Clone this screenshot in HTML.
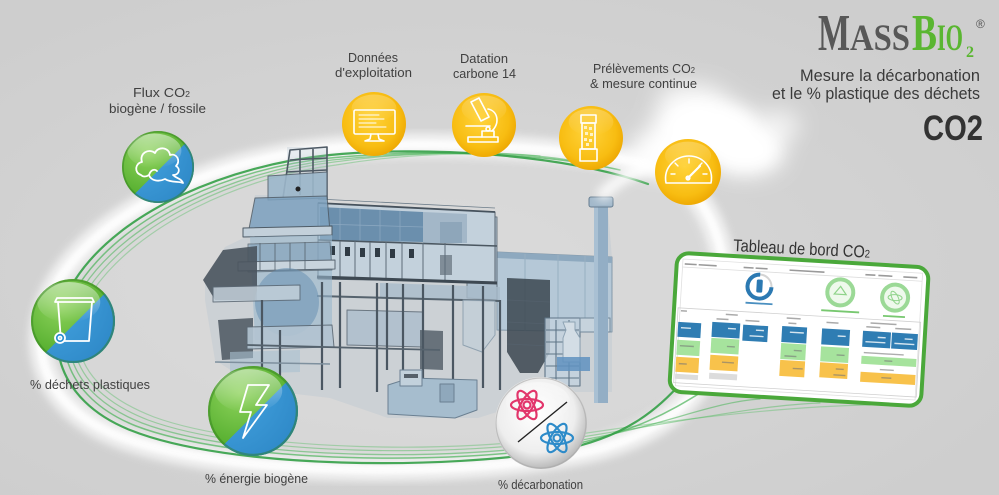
<!DOCTYPE html>
<html><head><meta charset="utf-8">
<style>
html,body{margin:0;padding:0;width:999px;height:495px;overflow:hidden;background:#d1d1d1}
svg{display:block;overflow:hidden}
text{font-family:"Liberation Sans",sans-serif}
</style></head><body>
<svg width="999" height="495" viewBox="0 0 999 495" xmlns="http://www.w3.org/2000/svg">
<defs>
 <filter id="b2" x="-20%" y="-20%" width="140%" height="140%"><feGaussianBlur stdDeviation="1.5"/></filter>
 <filter id="b4" x="-5%" y="-5%" width="110%" height="110%"><feGaussianBlur stdDeviation="4"/></filter>
 <filter id="b5" x="-20%" y="-20%" width="140%" height="140%"><feGaussianBlur stdDeviation="5"/></filter>
 <filter id="b8" x="-60%" y="-60%" width="220%" height="220%"><feGaussianBlur stdDeviation="8"/></filter>
 <filter id="b12" x="-40%" y="-40%" width="180%" height="180%"><feGaussianBlur stdDeviation="11"/></filter>
 <radialGradient id="bg" cx="45%" cy="55%" r="65%"><stop offset="0" stop-color="#d9d9d9"/><stop offset="1" stop-color="#cecece"/></radialGradient>
 <radialGradient id="yel" cx="45%" cy="42%" r="62%"><stop offset="0" stop-color="#ffd33a"/><stop offset="0.7" stop-color="#f8bd12"/><stop offset="1" stop-color="#eca500"/></radialGradient>
 <radialGradient id="grn" cx="35%" cy="30%" r="75%"><stop offset="0" stop-color="#8ed35c"/><stop offset="1" stop-color="#48a624"/></radialGradient>
 <radialGradient id="blu" cx="35%" cy="30%" r="80%"><stop offset="0" stop-color="#47a7e3"/><stop offset="1" stop-color="#1c72b3"/></radialGradient>
 <radialGradient id="sil" cx="45%" cy="40%" r="60%"><stop offset="0" stop-color="#ffffff"/><stop offset="0.7" stop-color="#eeeeee"/><stop offset="1" stop-color="#b9b9b9"/></radialGradient>
 <linearGradient id="gloss" x1="0" y1="0" x2="0" y2="1"><stop offset="0" stop-color="#fff" stop-opacity=".5"/><stop offset="1" stop-color="#fff" stop-opacity="0"/></linearGradient>
 <clipPath id="uc"><circle cx="0" cy="0" r="1"/></clipPath>
 <g id="ball">
  <circle r="1" fill="url(#grn)"/>
  <g clip-path="url(#uc)"><polygon points="-2,2.1 2,-1.9 2,2.5 -2,2.5" fill="url(#blu)"/></g>
  <ellipse cx="-0.1" cy="-0.45" rx="0.75" ry="0.48" fill="url(#gloss)"/>
  <circle r="0.975" fill="none" stroke="#2f7d1c" stroke-width="0.05" opacity=".45"/>
 </g>
 <g id="yball">
  <circle r="1" fill="url(#yel)"/>
  <ellipse cx="0" cy="-0.5" rx="0.7" ry="0.42" fill="url(#gloss)" opacity=".5"/>
 </g>
 <g id="atom" fill="none" stroke-width="2.2">
  <ellipse rx="16" ry="6"/>
  <ellipse rx="16" ry="6" transform="rotate(60)"/>
  <ellipse rx="16" ry="6" transform="rotate(-60)"/>
  <circle r="3.5"/>
 </g>
</defs>

<rect width="999" height="495" fill="url(#bg)"/>

<!-- ring inner fill and glow -->
<path d="M 330,155 C 230,165 120,210 75,280 C 40,335 55,400 130,430 C 230,470 450,470 560,450 C 640,438 700,400 712,330 C 725,255 700,190 645,170 C 560,152 420,146 330,155 Z" fill="#dadada" opacity=".7" filter="url(#b5)"/>
<g transform="translate(470 300) scale(1.04) translate(-470 -300)">
 <path d="M 330,155 C 230,165 120,210 75,280 C 40,335 55,400 130,430 C 230,470 450,470 560,450 C 640,438 700,400 712,330 C 725,255 700,190 645,170 C 560,152 420,146 330,155 Z" fill="none" stroke="#ffffff" stroke-width="22" opacity=".72" filter="url(#b4)"/>
 <path d="M 330,155 C 230,165 120,210 75,280 C 40,335 55,400 130,430 C 230,470 450,470 560,450 C 640,438 700,400 712,330 C 725,255 700,190 645,170 C 560,152 420,146 330,155 Z" fill="none" stroke="#ffffff" stroke-width="8" opacity=".75" filter="url(#b2)"/>
</g>

<!-- green strands -->
<g fill="none" stroke-linecap="round">
 <path d="M 500,155 C 450,152 390,156 336,165 C 244,176 138,224 92,292 C 62,340 79,388 154,417 C 250,452 465,455 580,434 C 700,416 800,406 870,405" stroke="#6cc277" stroke-width="1.2" opacity=".5"/>
 <path d="M 540,156 C 480,150 400,153 334,162 C 240,173 134,221 88,289 C 57,338 73,391 148,420 C 245,456 460,458 575,438 C 680,422 760,405 820,403" stroke="#62be6e" stroke-width="1.2" opacity=".55"/>
 <path d="M 580,162 C 520,150 420,151 332,160 C 236,171 130,218 84,286 C 52,337 68,394 142,423 C 240,460 455,462 570,442 C 660,428 710,402 760,399" stroke="#55b862" stroke-width="1.3" opacity=".6"/>
 <path d="M 620,170 C 540,152 420,149 330,158 C 232,168 126,214 80,283 C 47,336 63,397 136,426 C 236,464 452,465 565,446 C 640,432 680,405 705,390" stroke="#4cb35a" stroke-width="1.5" opacity=".7"/>
 <path d="M 648,184 C 560,153 420,146 330,155 C 230,165 120,210 75,280 C 40,335 55,400 130,430 C 230,470 450,470 560,450 C 625,438 662,408 690,372" stroke="#34a047" stroke-width="2.2" opacity=".9"/>
</g>

<!-- plant -->
<g stroke-linejoin="round">
 <polygon points="205,280 225,247 250,235 255,195 287,195 287,147 327,147 327,203 495,212 497,252 594,256 594,200 607,200 612,258 612,392 560,392 478,418 388,418 330,398 262,390 215,360 205,300" fill="#a9bccb" opacity=".25"/>
 <polygon points="497,252 612,257 612,332 497,330" fill="#b3c8d8" opacity=".9" stroke="#7d93a5"/>
 <polygon points="497,252 612,257 612,263 497,258" fill="#8ea9bf"/>
 <g stroke="#98afc1" stroke-width="1"><line x1="525" y1="254" x2="525" y2="331"/><line x1="558" y1="255" x2="558" y2="331"/><line x1="585" y1="256" x2="585" y2="332"/></g>
 <polygon points="507,278 550,280 550,352 538,373 520,373 507,352" fill="#3b4650" opacity=".85"/>
 <g stroke="#56636f" stroke-width=".8" opacity=".7"><line x1="507" y1="300" x2="550" y2="302"/><line x1="507" y1="322" x2="550" y2="324"/><line x1="507" y1="344" x2="550" y2="346"/></g>
 <rect x="545" y="318" width="35" height="67" fill="#c3d2de" opacity=".8"/>
 <g stroke="#5f7587" stroke-width="1.1" fill="none">
  <path d="M545,318 L580,318 L580,386 L545,386 Z"/>
  <path d="M546,330 L579,330 M546,342 L579,342 M546,354 L579,354 M546,366 L579,366 M546,378 L579,378"/>
  <path d="M556,320 L556,392 M569,320 L569,392"/>
 </g>
 <path d="M563,322 L575,322 L575,330 L580,338 L580,362 L563,362 L563,338 L566,330 Z" fill="#d3dde5" stroke="#8ea3b4"/>
 <rect x="557" y="357" width="33" height="14" fill="#5f92bf" opacity=".85"/>
 <rect x="580" y="318" width="30" height="14" fill="#c6d3dd" stroke="#72889a"/>
 <rect x="594" y="205" width="14" height="198" fill="#93aec5"/>
 <rect x="594" y="205" width="4" height="198" fill="#a9c0d3"/>
 <rect x="589" y="197" width="24" height="10" rx="2" fill="#a2b8ca" stroke="#667d90"/>
 <polygon points="467,215 497,217 497,300 467,298" fill="#a7bbcc" opacity=".85" stroke="#5d6b77"/>
 <polygon points="318,203 495,212 495,282 318,279" fill="#c3d1dc" stroke="#57636e" stroke-width="1"/>
 <polygon points="320,207 423,212 423,242 320,240" fill="#6b8fad"/>
 <g stroke="#8aa7c0" stroke-width=".8"><line x1="340" y1="208" x2="340" y2="240"/><line x1="360" y1="209" x2="360" y2="241"/><line x1="380" y1="210" x2="380" y2="241"/><line x1="400" y1="211" x2="400" y2="242"/><line x1="320" y1="224" x2="423" y2="227"/></g>
 <polygon points="423,212 467,214 467,243 423,243" fill="#a3b7c8"/>
 <polygon points="440,222 462,222 462,243 440,243" fill="#8ea6ba"/>
 <path d="M318,203 L495,212" stroke="#46525d" stroke-width="1.8"/>
 <path d="M318,199 L495,208" stroke="#6d7d8a" stroke-width=".8"/>
 <path d="M318,240 L497,246" stroke="#4b5761" stroke-width="1.6"/>
 <g fill="#2f3a44">
  <rect x="330" y="246" width="5" height="9"/><rect x="345" y="247" width="5" height="9"/>
  <rect x="360" y="248" width="5" height="9"/><rect x="375" y="248" width="5" height="9"/>
  <rect x="390" y="249" width="5" height="9"/><rect x="409" y="249" width="5" height="9"/>
  <rect x="440" y="255" width="12" height="20" opacity=".45"/>
 </g>
 <g stroke="#5d6b77" stroke-width="1">
  <line x1="340" y1="241" x2="340" y2="279"/><line x1="355" y1="241" x2="355" y2="280"/>
  <line x1="370" y1="242" x2="370" y2="280"/><line x1="386" y1="242" x2="386" y2="280"/>
  <line x1="402" y1="242" x2="402" y2="281"/><line x1="423" y1="243" x2="423" y2="281"/>
  <line x1="445" y1="243" x2="445" y2="282"/>
 </g>
 <path d="M317,277 L497,283" stroke="#3d4852" stroke-width="3"/>
 <polygon points="380,283 500,287 500,300 380,297" fill="#a9bccb" opacity=".8"/>
 <path d="M317,296 L500,301" stroke="#56636e" stroke-width="2"/>
 <g fill="none" stroke="#4d5964" stroke-width="1.6">
  <path d="M283,198 L290,150 L327,147 L327,200"/>
  <path d="M300,150 L300,195 M313,149 L313,196"/>
  <path d="M290,160 L327,158 M286,172 L327,170"/>
 </g>
 <polygon points="268,176 327,172 327,198 268,200" fill="#9cb7cb" opacity=".9" stroke="#56636f"/>
 <circle cx="298" cy="189" r="2.5" fill="#222"/>
 <polygon points="255,198 327,196 330,232 248,234" fill="#7ea2bf" opacity=".85" stroke="#4f5c67"/>
 <polygon points="243,228 332,226 332,235 243,237" fill="#c3d0da" stroke="#4f5c67"/>
 <polygon points="250,237 332,235 332,340 255,340" fill="#9ab7cd" opacity=".6"/>
 <polygon points="248,244 330,242 332,270 248,272" fill="#87a5bd" opacity=".7" stroke="#55626d"/>
 <polygon points="238,262 335,260 335,269 238,271" fill="#c8d4dd" stroke="#5b6874"/>
 <g stroke="#56636e" stroke-width=".8"><line x1="260" y1="243" x2="260" y2="270"/><line x1="275" y1="243" x2="275" y2="270"/><line x1="290" y1="243" x2="290" y2="270"/><line x1="305" y1="242" x2="305" y2="270"/></g>
 <polygon points="203,280 223,250 257,246 257,300 215,300" fill="#4a545e" opacity=".9"/>
 <ellipse cx="287" cy="302" rx="32" ry="34" fill="#6a91b2" opacity=".55"/>
 <polygon points="213,287 300,285 300,300 213,302" fill="#c2cfd9" opacity=".85" stroke="#5b6874"/>
 <polygon points="218,320 253,318 253,358 222,360" fill="#535d67" opacity=".9"/>
 <polygon points="247,327 332,325 334,347 247,349" fill="#b3c4d2" opacity=".9" stroke="#5b6874"/>
 <polygon points="230,352 300,350 300,372 230,374" fill="#a8bfd1" opacity=".6"/>
 <polygon points="347,310 423,312 423,347 347,345" fill="#aebfcd" opacity=".85" stroke="#5b6874"/>
 <polygon points="420,330 443,331 443,370 420,369" fill="#56616b" opacity=".85"/>
 <polygon points="463,300 495,301 495,335 482,352 463,345" fill="#c4cfd8" opacity=".9" stroke="#8a9dac"/>
 <g stroke="#4b5762" stroke-width="2.2">
  <line x1="262" y1="300" x2="262" y2="385"/><line x1="280" y1="330" x2="280" y2="380"/>
  <line x1="322" y1="282" x2="322" y2="390"/><line x1="340" y1="282" x2="340" y2="388"/>
  <line x1="377" y1="283" x2="377" y2="392"/><line x1="387" y1="283" x2="387" y2="370"/>
  <line x1="403" y1="284" x2="403" y2="375"/><line x1="423" y1="284" x2="423" y2="380"/>
  <line x1="453" y1="285" x2="453" y2="385"/><line x1="483" y1="286" x2="483" y2="388"/>
  <line x1="500" y1="300" x2="500" y2="390"/>
 </g>
 <path d="M247,345 L440,350" stroke="#55626d" stroke-width="1.8"/>
 <path d="M215,362 L330,364" stroke="#7e909e" stroke-width="1.5"/>
 <polygon points="388,385 410,378 477,380 477,410 455,418 388,414" fill="#a6bdce" stroke="#6b8092"/>
 <rect x="400" y="370" width="22" height="16" fill="#c2d1dc" stroke="#6b8092"/>
 <rect x="404" y="374" width="14" height="4" fill="#55606a"/>
 <rect x="440" y="384" width="14" height="18" fill="#8fa8bc" stroke="#6b8092"/>
</g>

<!-- cloud -->
<g filter="url(#b12)">
 <ellipse cx="705" cy="128" rx="55" ry="30" fill="#fff"/>
 <ellipse cx="745" cy="152" rx="40" ry="24" fill="#fff"/>
 <ellipse cx="660" cy="152" rx="32" ry="20" fill="#fff"/>
 <ellipse cx="692" cy="100" rx="35" ry="16" fill="#fff" opacity=".8"/>
 <ellipse cx="778" cy="126" rx="22" ry="16" fill="#fff" opacity=".7"/>
</g>
<g filter="url(#b8)">
 <ellipse cx="712" cy="130" rx="42" ry="22" fill="#fff"/>
 <ellipse cx="745" cy="150" rx="28" ry="16" fill="#fff"/>
</g>
<path d="M600,198 C610,185 625,176 650,165" stroke="#fff" stroke-width="12" fill="none" opacity=".9" filter="url(#b5)"/>

<!-- green/blue balls -->
<use href="#ball" transform="translate(158 167) scale(36)"/>
<use href="#ball" transform="translate(73 321) scale(42)"/>
<use href="#ball" transform="translate(253 411) scale(45)"/>

<g fill="none" stroke="#fff" stroke-width="1.8" stroke-linejoin="round" stroke-linecap="round">
 <g transform="translate(159 165)">
  <path d="M-18,10 C-25,8 -24,-2 -17,-3 C-20,-12 -10,-17 -4,-12 C-1,-19 10,-18 11,-10 C18,-12 22,-4 17,1 C22,4 20,10 14,10 C18,14 22,13 24,18 C20,16 12,18 6,14 C0,17 -8,16 -10,10 C-13,12 -16,12 -18,10 Z"/>
  <path d="M-10,10 C-8,4 -4,4 -2,6"/>
 </g>
 <g transform="translate(73 321)">
  <path d="M-18,-19 L-16,-23 L19,-23 L21,-19 Z"/>
  <path d="M-15,-19 L-12,20 L16,20 L19,-19"/>
  <circle cx="-13" cy="17" r="5" fill="#2b8fd0"/>
  <circle cx="-13" cy="17" r="1.5"/>
 </g>
 <g transform="translate(253 411)">
  <path d="M-5,-26 L16,-26 L3,-6 L14,-6 L-10,27 L-2,1 L-13,1 Z"/>
 </g>
</g>

<!-- yellow balls -->
<use href="#yball" transform="translate(374 124) scale(32)"/>
<use href="#yball" transform="translate(484 125) scale(32)"/>
<use href="#yball" transform="translate(591 138) scale(32)"/>
<use href="#yball" transform="translate(688 172) scale(33)"/>

<g fill="none" stroke="#fff" stroke-width="1.6" stroke-linejoin="round" stroke-linecap="round">
 <g transform="translate(374 124)">
  <rect x="-20" y="-14" width="41" height="24" rx="1.5"/>
  <path d="M-3,10 L-4,15 L-9,17 L10,17 L5,15 L4,10"/>
  <path d="M-15,-9 L5,-9 M-15,-5 L10,-5 M-15,-1 L2,-1 M-15,3 L12,3" stroke-width="1"/>
 </g>
 <g transform="translate(484 125)">
  <rect x="-16" y="12" width="30" height="5"/>
  <path d="M-2,12 L-2,6 L10,6 L10,12"/>
  <path d="M8,6 C16,-2 14,-14 4,-16"/>
  <path d="M-13,-23 L-5,-27 L5,-8 L-3,-4 Z"/>
  <path d="M-18,1 L6,1"/>
  <circle cx="4" cy="4" r="2"/>
 </g>
 <g transform="translate(589 138)">
  <rect x="-8" y="-23" width="15" height="8"/>
  <rect x="-7" y="-15" width="13" height="26"/>
  <rect x="-9" y="11" width="17" height="12"/>
  <g fill="#fff2c4" stroke="none">
   <rect x="-5" y="-12" width="3" height="3"/><rect x="0" y="-11" width="3" height="3"/>
   <rect x="-4" y="-6" width="3" height="3"/><rect x="1" y="-5" width="3" height="3"/>
   <rect x="-5" y="0" width="3" height="3"/><rect x="0" y="1" width="3" height="3"/>
   <rect x="-3" y="5" width="3" height="3"/>
  </g>
 </g>
 <g transform="translate(688 172)">
  <path d="M-22,11 C-25,-5 -12,-16 1,-16 C14,-16 26,-5 23,11 Z"/>
  <path d="M-17,2 L-13,2 M-13,-9 L-10,-6 M1,-13 L1,-9 M14,-9 L11,-6 M19,2 L15,2" stroke-width="1.4"/>
  <path d="M0,6 L12,-6" stroke-width="2.2"/>
  <circle cx="0" cy="6" r="1.8"/>
 </g>
</g>

<!-- décarbonation ball -->
<circle cx="541" cy="423" r="46" fill="url(#sil)"/>
<circle cx="541" cy="423" r="45" fill="none" stroke="#a9a9a9" stroke-width="1.2" opacity=".6"/>
<ellipse cx="538" cy="402" rx="32" ry="20" fill="url(#gloss)" opacity=".8"/>
<use href="#atom" transform="translate(527 405)" stroke="#e2356b"/>
<use href="#atom" transform="translate(557 438)" stroke="#2d8bc9"/>
<line x1="567" y1="402" x2="518" y2="442" stroke="#222" stroke-width="1.4"/>

<!-- dashboard -->
<text x="733" y="251" font-size="17" fill="#333" textLength="137" lengthAdjust="spacingAndGlyphs" transform="rotate(2.8 733 251)">Tableau de bord CO<tspan font-size="11">2</tspan></text>
<g transform="rotate(3.4 799 330)">
 <rect x="673" y="260" width="252" height="139" rx="12" fill="#fff" stroke="#4aa83a" stroke-width="4"/>
 <rect x="679" y="266" width="240" height="127" fill="none" stroke="#e0e0e0" stroke-width="0.8"/>
 <g fill="#9a9a9a">
  <rect x="681" y="270" width="12" height="1.6"/><rect x="695" y="270" width="18" height="1.6"/>
  <rect x="740" y="270" width="10" height="1.6"/><rect x="752" y="270" width="12" height="1.6"/>
  <rect x="786" y="270" width="35" height="1.6"/>
  <rect x="862" y="270" width="10" height="1.6"/><rect x="875" y="270" width="14" height="1.6"/><rect x="900" y="270" width="14" height="1.6"/>
 </g>
 <line x1="679" y1="274" x2="919" y2="274" stroke="#ddd" stroke-width=".8"/>
 <circle cx="757" cy="289" r="12" fill="none" stroke="#d4d4d4" stroke-width="2"/>
 <path d="M757,277 A12,12 0 1 0 769,289" fill="none" stroke="#2b79b2" stroke-width="4"/>
 <rect x="754" y="282" width="6" height="13" rx="1.5" fill="#2b79b2"/>
 <rect x="744" y="305" width="27" height="1.8" fill="#4a8fc0"/>
 <circle cx="838" cy="290" r="13" fill="#eef9ec" stroke="#9bd996" stroke-width="4"/>
 <path d="M832,292 L838,284 L844,292 Z" fill="none" stroke="#8fd38a" stroke-width="1.2"/>
 <rect x="820" y="308" width="38" height="1.8" fill="#78c870"/>
 <circle cx="893" cy="292" r="13" fill="#eef9ec" stroke="#9bd996" stroke-width="4"/>
 <ellipse cx="893" cy="292" rx="7" ry="3" fill="none" stroke="#8fd38a" stroke-width="1"/>
 <ellipse cx="893" cy="292" rx="7" ry="3" fill="none" stroke="#8fd38a" stroke-width="1" transform="rotate(60 893 292)"/>
 <rect x="882" y="310" width="22" height="1.8" fill="#78c870"/>
 <rect x="677" y="315" width="243" height="75" fill="none" stroke="#d0d0d0" stroke-width=".8"/>
 <g fill="#aaa">
  <rect x="680" y="317" width="6" height="1.5"/><rect x="725" y="318" width="12" height="1.5"/>
  <rect x="716" y="323" width="12" height="1.5"/><rect x="745" y="323" width="14" height="1.5"/>
  <rect x="786" y="318" width="14" height="1.5"/><rect x="788" y="323" width="8" height="1.5"/>
  <rect x="826" y="320" width="12" height="1.5"/><rect x="870" y="318" width="26" height="1.5"/>
  <rect x="866" y="322" width="14" height="1.5"/><rect x="895" y="322" width="16" height="1.5"/>
 </g>
 <g fill="#2f7db3">
  <rect x="678" y="329" width="23" height="15"/>
  <rect x="712" y="327" width="28" height="15"/>
  <rect x="743" y="328" width="25" height="16"/>
  <rect x="782" y="327" width="25" height="16"/>
  <rect x="822" y="327" width="28" height="16"/>
  <rect x="863" y="327" width="28" height="16"/>
  <rect x="892" y="327" width="26" height="16"/>
 </g>
 <g fill="#a6e39d">
  <rect x="678" y="347" width="23" height="15"/>
  <rect x="712" y="343" width="28" height="15"/>
  <rect x="782" y="344" width="25" height="16"/>
  <rect x="822" y="345" width="28" height="15"/>
  <rect x="863" y="352" width="55" height="8"/>
 </g>
 <g fill="#f8c24b">
  <rect x="678" y="364" width="23" height="15"/>
  <rect x="712" y="360" width="28" height="15"/>
  <rect x="782" y="361" width="25" height="16"/>
  <rect x="822" y="361" width="28" height="15"/>
  <rect x="863" y="368" width="55" height="10"/>
 </g>
 <g fill="#dcdcdc">
  <rect x="678" y="381" width="23" height="5"/>
  <rect x="712" y="378" width="28" height="6"/>
 </g>
 <g fill="#fff" opacity=".8">
  <rect x="681" y="334" width="10" height="1.4"/><rect x="728" y="332" width="8" height="1.4"/>
  <rect x="756" y="332" width="8" height="1.4"/><rect x="750" y="338" width="14" height="1.4"/>
  <rect x="790" y="332" width="14" height="1.4"/><rect x="838" y="333" width="8" height="1.4"/>
  <rect x="878" y="332" width="8" height="1.4"/><rect x="866" y="337" width="20" height="1.4"/>
  <rect x="905" y="332" width="8" height="1.4"/><rect x="895" y="337" width="20" height="1.4"/>
 </g>
 <g fill="#777" opacity=".6">
  <rect x="681" y="352" width="14" height="1.4"/><rect x="728" y="350" width="8" height="1.4"/>
  <rect x="681" y="370" width="8" height="1.4"/><rect x="724" y="366" width="12" height="1.4"/>
  <rect x="795" y="350" width="8" height="1.4"/><rect x="786" y="356" width="12" height="1.4"/>
  <rect x="795" y="368" width="10" height="1.4"/><rect x="838" y="352" width="8" height="1.4"/>
  <rect x="838" y="366" width="8" height="1.4"/><rect x="836" y="372" width="12" height="1.4"/>
  <rect x="865" y="348" width="40" height="1.4"/><rect x="886" y="355" width="8" height="1.4"/>
  <rect x="882" y="364" width="14" height="1.4"/><rect x="884" y="372" width="10" height="1.4"/>
 </g>
</g>

<!-- labels -->
<g fill="#404040" font-size="13">
 <text x="348" y="62" textLength="50" lengthAdjust="spacingAndGlyphs">Données</text>
 <text x="335" y="77" textLength="77" lengthAdjust="spacingAndGlyphs">d'exploitation</text>
 <text x="460" y="63" textLength="48" lengthAdjust="spacingAndGlyphs">Datation</text>
 <text x="453" y="78" textLength="63" lengthAdjust="spacingAndGlyphs">carbone 14</text>
 <text x="593" y="73" textLength="102" lengthAdjust="spacingAndGlyphs">Prélèvements CO<tspan font-size="8">2</tspan></text>
 <text x="590" y="88" textLength="107" lengthAdjust="spacingAndGlyphs">&amp; mesure continue</text>
 <text x="133" y="97" textLength="57" lengthAdjust="spacingAndGlyphs">Flux CO<tspan font-size="8">2</tspan></text>
 <text x="109" y="113" textLength="97" lengthAdjust="spacingAndGlyphs">biogène / fossile</text>
 <text x="30" y="389" textLength="120" lengthAdjust="spacingAndGlyphs">% déchets plastiques</text>
 <text x="205" y="483" textLength="103" lengthAdjust="spacingAndGlyphs">% énergie biogène</text>
 <text x="498" y="489" textLength="85" lengthAdjust="spacingAndGlyphs">% décarbonation</text>
</g>

<!-- logo & title -->
<g font-weight="bold">
 <text x="818" y="50" font-size="52" fill="#585858" textLength="32" lengthAdjust="spacingAndGlyphs" style="font-family:'Liberation Serif',serif">M</text>
 <text x="850" y="50" font-size="37" fill="#585858" textLength="60" lengthAdjust="spacingAndGlyphs" style="font-family:'Liberation Serif',serif">ASS</text>
 <text x="912" y="50" font-size="52" fill="#5ab631" textLength="25" lengthAdjust="spacingAndGlyphs" style="font-family:'Liberation Serif',serif">B</text>
 <text x="937" y="50" font-size="37" fill="#5ab631" textLength="26" lengthAdjust="spacingAndGlyphs" style="font-family:'Liberation Serif',serif">IO</text>
 <text x="966" y="57" font-size="16" fill="#5ab631" style="font-family:'Liberation Serif',serif">2</text>
</g>
<text x="976" y="28" font-size="12" fill="#555">®</text>
<text x="800" y="81" font-size="16.5" fill="#3a3a3a" textLength="180" lengthAdjust="spacingAndGlyphs">Mesure la décarbonation</text>
<text x="772" y="99" font-size="16.5" fill="#3a3a3a" textLength="208" lengthAdjust="spacingAndGlyphs">et le % plastique des déchets</text>
<text x="923" y="140" font-size="35" font-weight="bold" fill="#333" textLength="60" lengthAdjust="spacingAndGlyphs">CO2</text>
</svg>
</body></html>
